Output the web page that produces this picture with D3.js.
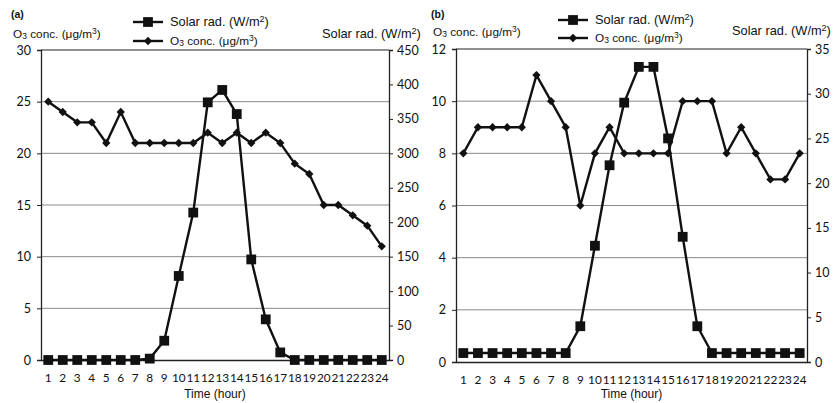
<!DOCTYPE html>
<html>
<head>
<meta charset="utf-8">
<script src="https://cdn.jsdelivr.net/npm/d3@7"></script>
<style>
  body { margin: 0; background: #fff; }
  svg { display: block; }
  text { fill: #111; }
</style>
</head>
<body>
<svg id="chart" width="837" height="403"></svg>
<script>
// hourly values
const hours = [1,2,3,4,5,6,7,8,9,10,11,12,13,14,15,16,17,18,19,20,21,22,23,24];

const o3A = [25,24,23,23,21,24,21,21,21,21,21,22,21,22,21,22,21,19,18,15,15,14,13,11];
const solarA = [0,0,0,0,0,0,0,2,28,122,214,374,392,357,146,59,11,0,0,0,0,0,0,0];
const o3TicksA = [0,5,10,15,20,25,30];
const solarTicksA = [0,50,100,150,200,250,300,350,400,450];

const o3B = [8,9,9,9,9,11,10,9,6,8,9,8,8,8,8,10,10,10,8,9,8,7,7,8];
const solarB = [1,1,1,1,1,1,1,1,4,13,22,29,33,33,25,14,4,1,1,1,1,1,1,1];
const o3TicksB = [0,2,4,6,8,10,12];
const solarTicksB = [0,5,10,15,20,25,30,35];

const svg = d3.select("#chart");
const tickFont = "Lato, 'Open Sans', sans-serif";
const labelFont = "'Liberation Sans', Arial, sans-serif";

// O3 conc. (µg/m3) with sub/superscript
function o3Label(g, x, y) {
  const t = g.append("text").attr("x", x).attr("y", y)
    .attr("font-family", labelFont).attr("font-size", 11.8);
  t.append("tspan").text("O");
  t.append("tspan").attr("font-size", 8.5).attr("dy", 1).text("3");
  t.append("tspan").attr("dy", -1).text(" conc. (μg/m");
  t.append("tspan").attr("font-size", 8.5).attr("dy", -4).text("3");
  t.append("tspan").attr("dy", 4).text(")");
}
function solarLabel(g, x, y) {
  const t = g.append("text").attr("x", x).attr("y", y)
    .attr("font-family", labelFont).attr("font-size", 12.8);
  t.append("tspan").text("Solar rad. (W/m");
  t.append("tspan").attr("font-size", 9).attr("dy", -4).text("2");
  t.append("tspan").attr("dy", 4).text(")");
}

const square = d3.symbol().type(d3.symbolSquare).size(96);
const diamond = d3.symbol().type(d3.symbolDiamond2).size(44);

function drawPanel(p) {
  const g = svg.append("g");
  const x = d3.scaleBand().domain(hours).range([p.left, p.right]);
  const cx = d => x(d) + x.bandwidth() / 2;
  const yL = d3.scaleLinear().domain([0, p.o3Max]).range([p.bottom, p.top]);
  const yR = d3.scaleLinear().domain([0, p.solarMax]).range([p.bottom, p.top]);

  // gridlines
  g.append("g").selectAll("line").data(p.o3Ticks.slice(1)).join("line")
    .attr("x1", p.left).attr("x2", p.right)
    .attr("y1", d => yL(d)).attr("y2", d => yL(d))
    .attr("stroke", d => d === p.o3Max ? "#222" : "#8a8a8a")
    .attr("stroke-width", d => d === p.o3Max ? 1.2 : 1);

  // left axis
  const ax = g.append("g").attr("transform", `translate(${p.left},0)`)
    .call(d3.axisLeft(yL).tickValues(p.o3Ticks).tickSize(4).tickPadding(6));
  // right axis
  const ar = g.append("g").attr("transform", `translate(${p.right},0)`)
    .call(d3.axisRight(yR).tickValues(p.solarTicks).tickSize(4).tickPadding(4));
  // bottom axis
  const ab = g.append("g").attr("transform", `translate(0,${p.bottom})`)
    .call(d3.axisBottom(x).tickSize(0).tickPadding(14));
  [ax, ar, ab].forEach(a => {
    a.selectAll("text").attr("font-family", tickFont).attr("font-size", 12.5).attr("fill", "#111");
    a.select(".domain").attr("stroke", "#222").attr("stroke-width", 1.3);
    a.selectAll(".tick line").attr("stroke", "#222");
  });
  ab.selectAll("text").attr("font-size", 11.8);

  // O3 series
  const lineL = d3.line().x((d, i) => cx(hours[i])).y(d => yL(d));
  g.append("path").datum(p.o3).attr("d", lineL)
    .attr("fill", "none").attr("stroke", "#111").attr("stroke-width", 2.4);
  g.append("g").selectAll("path").data(p.o3).join("path")
    .attr("transform", (d, i) => `translate(${cx(hours[i])},${yL(d)})`)
    .attr("d", diamond).attr("fill", "#111");

  // Solar series
  const lineR = d3.line().x((d, i) => cx(hours[i])).y(d => yR(d));
  g.append("path").datum(p.solar).attr("d", lineR)
    .attr("fill", "none").attr("stroke", "#111").attr("stroke-width", 2.4);
  g.append("g").selectAll("path").data(p.solar).join("path")
    .attr("transform", (d, i) => `translate(${cx(hours[i])},${yR(d)})`)
    .attr("d", square).attr("fill", "#111");

  // titles
  g.append("text").attr("x", p.tagX).attr("y", 18)
    .attr("font-family", labelFont).attr("font-size", 10.5).attr("font-weight", "bold").text(p.tag);
  o3Label(g, p.o3TitleX, p.o3TitleY);
  solarLabel(g, p.solarTitleX, p.solarTitleY);
  g.append("text").attr("x", (p.left + p.right) / 2).attr("y", 398)
    .attr("text-anchor", "middle").attr("font-family", labelFont).attr("font-size", 12).text("Time (hour)");

  // legend
  const lx = p.legendX;
  [[p.legendY1, square, solarLabel], [p.legendY2, diamond, o3Label]].forEach(([ly, sym, lab]) => {
    g.append("line").attr("x1", lx).attr("x2", lx + 30).attr("y1", ly).attr("y2", ly)
      .attr("stroke", "#111").attr("stroke-width", 2.4);
    g.append("path").attr("transform", `translate(${lx + 15},${ly})`).attr("d", sym).attr("fill", "#111");
    lab(g, lx + 37, ly + 4);
  });
}

drawPanel({
  tag: "(a)", tagX: 11, left: 41, right: 389, top: 50, bottom: 360,
  o3: o3A, solar: solarA, o3Max: 30, solarMax: 450,
  o3Ticks: o3TicksA, solarTicks: solarTicksA,
  o3TitleX: 13, o3TitleY: 38, solarTitleX: 322, solarTitleY: 38,
  legendX: 133, legendY1: 22, legendY2: 41
});
drawPanel({
  tag: "(b)", tagX: 431, left: 456, right: 807, top: 49, bottom: 362,
  o3: o3B, solar: solarB, o3Max: 12, solarMax: 35,
  o3Ticks: o3TicksB, solarTicks: solarTicksB,
  o3TitleX: 433, o3TitleY: 36, solarTitleX: 732, solarTitleY: 35,
  legendX: 558, legendY1: 20, legendY2: 38
});
</script>
</body>
</html>
